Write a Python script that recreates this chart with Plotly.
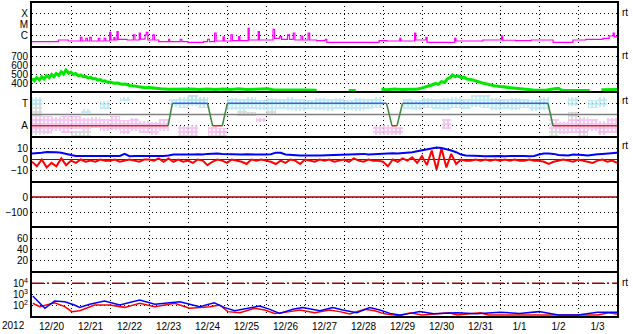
import numpy as np
import pandas as pd
import plotly.graph_objects as go
from plotly.subplots import make_subplots

START = pd.Timestamp("2012-12-20")
END = pd.Timestamp("2013-01-04")

def to_time(days):
    return [START + pd.Timedelta(days=float(d)) for d in days]

# ---------------- data ----------------
# GOES X-ray flux (W/m^2)
xray_days = [0.00, 0.68, 0.93, 1.24, 1.28, 1.38, 1.42, 1.48, 1.52, 1.70, 1.74, 1.85, 1.89, 1.99, 2.02,
             2.10, 2.13, 2.18, 2.21, 2.40, 2.44, 2.60, 2.64, 2.75, 2.78, 2.90, 2.93, 2.97, 3.10, 3.14,
             3.25, 3.50, 3.53, 3.80, 3.84, 4.00, 4.40, 4.50, 4.55, 4.68, 4.72, 4.90, 4.93, 5.10, 5.14,
             5.30, 5.33, 5.54, 5.57, 5.80, 5.83, 6.00, 6.18, 6.22, 6.35, 6.40, 6.55, 6.60, 6.70, 6.74,
             6.90, 6.94, 7.08, 7.12, 7.30, 7.52, 7.56, 7.63, 8.90, 9.10, 9.43, 9.46, 9.60, 9.81, 9.84,
             9.94, 10.10, 10.13, 10.20, 10.84, 10.87, 11.00, 11.56, 11.65, 12.04, 12.07, 12.40, 12.80,
             13.36, 13.87, 14.20, 14.50, 14.64, 14.80, 14.90, 14.93, 15.00]
xray_flux = [3.0e-7, 4.2e-7, 3.4e-7, 7.2e-7, 3.4e-7, 6.0e-7, 3.4e-7, 7.2e-7, 3.4e-7, 5.9e-7, 3.4e-7,
             5.9e-7, 3.4e-7, 2.0e-6, 4.2e-7, 7.0e-7, 4.2e-7, 2.3e-6, 4.8e-7, 4.8e-7, 4.2e-7, 1.2e-6,
             4.2e-7, 1.7e-6, 5.0e-7, 1.2e-6, 2.0e-6, 4.2e-7, 1.2e-6, 4.2e-7, 3.0e-7, 4.8e-7, 3.0e-7,
             4.8e-7, 3.0e-7, 2.6e-7, 3.0e-7, 4.8e-7, 3.0e-7, 1.7e-6, 3.4e-7, 8.0e-7, 3.4e-7, 1.2e-6,
             3.7e-7, 8.3e-7, 3.7e-7, 4.6e-6, 4.2e-7, 2.3e-6, 4.2e-7, 4.2e-7, 3.7e-6, 5.9e-7, 8.3e-7,
             4.8e-7, 1.2e-6, 4.8e-7, 1.7e-6, 4.2e-7, 9.5e-7, 4.2e-7, 1.7e-6, 4.2e-7, 3.7e-7, 4.8e-7,
             2.6e-7, 2.6e-7, 3.7e-7, 3.4e-7, 5.9e-7, 3.4e-7, 3.4e-7, 1.7e-6, 4.2e-7, 4.2e-7, 7.2e-7,
             2.6e-7, 2.6e-7, 5.9e-7, 3.4e-7, 3.4e-7, 4.2e-7, 4.2e-7, 1.0e-6, 4.0e-7, 3.7e-7, 4.2e-7,
             2.6e-7, 4.2e-7, 4.8e-7, 4.8e-7, 5.9e-7, 9.5e-7, 1.7e-6, 8.0e-7, 1.0e-6]

# Solar wind speed (km/s), None = data gap
speed_days = [0.00, 0.06, 0.12, 0.19, 0.25, 0.31, 0.37, 0.44, 0.50, 0.56, 0.62, 0.69, 0.75, 0.81, 0.87,
              0.94, 1.00, 1.06, 1.12, 1.19, 1.25, 1.31, 1.37, 1.44, 1.50, 1.56, 1.62, 1.69, 1.75, 1.81,
              1.87, 1.94, 2.00, 2.10, 2.20, 2.30, 2.40, 2.50, 2.60, 2.70, 2.80, 2.90, 3.00, 3.15, 3.30,
              3.50, 3.70, 3.90, 4.10, 4.30, 4.50, 4.70, 4.90, 5.10, 5.30, 5.50, 5.70, 5.90, 6.05, 6.20,
              6.50, 6.80, 7.00, 7.30, 7.32, 8.12, 8.30, 8.32, 8.96, 9.10, 9.30, 9.50, 9.70, 9.85, 9.95,
              10.05, 10.15, 10.25, 10.35, 10.42, 10.50, 10.58, 10.65, 10.72, 10.78, 10.85, 10.92, 11.00,
              11.08, 11.15, 11.25, 11.35, 11.45, 11.55, 11.65, 11.75, 11.85, 12.00, 12.15, 12.30, 12.50,
              12.70, 12.85, 13.00, 13.20, 13.40, 13.50, 13.60, 14.30, 14.50, 14.60, 14.80, 15.00]
speed_vals = [450, 425, 460, 435, 470, 445, 480, 460, 495, 470, 505, 485, 525, 500, 545,
              510, 520, 495, 505, 480, 490, 470, 475, 455, 465, 445, 450, 432, 438, 420,
              425, 408, 412, 398, 400, 385, 388, 372, 368, 360, 355, 348, 350, 340, 335,
              330, 332, 328, 333, 328, 332, 327, 333, 328, 335, 328, 333, 330, 336, 322,
              324, 320, 323, 320, None, 316, 318, None, 330, 326, 332, 327, 331, 330, 338,
              350, 365, 378, 395, 385, 415, 405, 445, 460, 490, 470, 480, 462,
              465, 445, 440, 425, 410, 400, 390, 378, 370, 360, 352, 345, 337,
              328, 322, 320, 322, 335, 340, 316, 316, None, 325, 330, 328]

# IMF sector polarity (1 = Away, 3 = Toward)
pol_days = [0.00, 3.49, 3.60, 4.50, 4.63, 4.88, 5.01, 9.09, 9.23, 9.36, 9.50, 13.23, 13.36, 15.00]
pol_vals = [1, 1, 3, 3, 1, 1, 3, 3, 1, 1, 3, 3, 1, 1]
SECTOR_MID = 2

# Phi-angle scatter clouds, 6-hour bins (low/high on the 0-4 panel scale)
cyan_lo = [2.8, None, None, None, None, 2.1, None, 2.5, None, 3.2, None, None, None, None, 2.7,
           2.6, 2.8, 2.6, None, None, 2.4, 2.3, 2.5, 2.4, 2.3, 2.5, 2.4, 2.3, 2.5, 2.4,
           2.3, 2.5, 2.4, 2.3, 2.5, 2.6, None, None, 2.5, 2.4, 2.6, 2.5, 2.4, 2.6, 2.5,
           2.7, 2.6, 2.4, 2.5, 2.4, 2.6, 2.3, 2.4, None, None, 2.8, None, 2.6, 2.7, None]
cyan_hi = [3.6, None, None, None, None, 2.5, None, 3.2, None, 3.6, None, None, None, None, 3.4,
           3.6, 3.7, 3.5, None, None, 3.5, 3.4, 3.6, 3.3, 3.5, 3.4, 3.6, 3.4, 3.3, 3.5,
           3.4, 3.5, 3.3, 3.5, 3.4, 3.6, None, None, 3.4, 3.3, 3.5, 3.4, 3.5, 3.6, 3.4,
           3.7, 3.7, 3.5, 3.4, 3.5, 3.4, 3.3, 3.6, None, None, 3.6, None, 3.3, 3.6, None]
pink_lo = [0.5, 0.3, 0.5, 0.4, 0.7, 0.6, 0.8, 0.5, 0.6, 0.3, 0.5, 0.4, 0.2, 0.5, None,
           0.1, 0.0, None, 0.0, 0.1, None, None, None, 1.3, None, None, None, None, None, None,
           None, None, None, None, None, 0.2, 0.2, 0.3, None, None, None, None, 0.7, None, None,
           None, None, None, None, None, None, None, None, 0.6, 0.3, 0.4, 0.3, 0.5, 0.2, 0.4]
pink_hi = [1.7, 1.9, 1.8, 1.9, 1.9, 1.7, 1.8, 1.6, 1.9, 1.5, 1.7, 1.4, 1.3, 1.6, None,
           1.0, 1.1, None, 0.9, 0.8, None, None, None, 1.7, None, None, None, None, None, None,
           None, None, None, None, None, 1.0, 1.1, 0.9, None, None, None, None, 1.6, None, None,
           None, None, None, None, None, None, None, None, 1.6, 1.3, 1.5, 1.8, 1.6, 1.4, 1.7]
gray_lo = [0.2, None, None, None, 0.0, 0.1, None, None, None, None, None, None, None, None, None,
           None, 2.9, 2.8, None, 0.1, None, 1.9, 1.9, None, 2.0, None, None, None, None, None,
           None, None, None, None, None, None, None, 0.2, None, None, None, None, None, None, None,
           None, None, None, None, None, None, None, None, 0.1, None, 1.4, 0.0, None, 0.2, None]
gray_hi = [3.3, None, None, None, 0.5, 0.6, None, None, None, None, None, None, None, None, None,
           None, 3.7, 3.6, None, 0.6, None, 2.3, 2.2, None, 2.3, None, None, None, None, None,
           None, None, None, None, None, None, None, 0.8, None, None, None, None, None, None, None,
           None, None, None, None, None, None, None, None, 0.6, None, 2.2, 0.6, None, 1.0, None]

# IMF Bt and Bz (nT), 3-hourly
bt_vals = [5.3, 5.5, 6.0, 6.7, 6.7, 6.5, 6.0, 5.3,
           4.0, 3.2, 3.2, 3.0, 3.2, 3.0, 3.0, 3.2,
           3.0, 3.0, 3.2, 5.0, 3.0, 3.2, 3.0, 3.0,
           3.2, 3.2, 3.0, 3.2, 3.5, 4.4, 4.4, 4.2,
           4.4, 4.4, 4.6, 4.4, 5.0, 5.3, 5.3, 5.0,
           4.7, 4.4, 4.2, 4.4, 4.7, 4.4, 4.2, 4.4,
           4.4, 4.7, 6.1, 6.0, 4.4, 4.0, 3.8, 3.6,
           3.6, 3.8, 3.6, 3.5, 3.6, 3.8, 4.0, 4.4,
           4.4, 4.7, 4.4, 4.7, 5.0, 4.4, 4.7, 5.0,
           5.5, 5.8, 5.5, 5.3, 5.5, 5.8, 6.5, 7.3,
           8.0, 8.8, 10.0, 10.6, 10.2, 9.4, 8.0, 6.5,
           4.4, 3.5, 3.2, 3.2, 3.2, 3.0, 3.2, 3.0,
           3.2, 3.0, 3.2, 3.0, 3.2, 3.2, 3.0, 3.2,
           4.5, 5.3, 5.3, 5.0, 4.0, 3.8, 3.5, 4.4,
           4.4, 4.0, 3.6, 4.4, 4.7, 5.0, 5.5, 6.1,
           6.1]
bz_vals = [-2, -6, 0, -7, -3, -6, 1, -5,
           -1, -3, 0, -2, -1, -2, 0, -1,
           -1, 0, -2, -1, 0, -1, -2, 0,
           0, -1, 1, -2, 1, -2, 0, -2,
           -1, -3, 0, -1, -5, -2, 0, -1,
           -3, 0, -1, -2, -4, 0, -1, 0,
           -1, -2, -4, -1, -3, 0, -1, -4,
           0, -1, -2, 0, -1, 0, -2, -1,
           0, -2, 1, -1, -2, 0, -1, -1,
           -2, -6, 0, -2, 1, -1, 2, -3,
           3, -5, 8, -9, 10, -7, 5, -4,
           0, -1, -1, 0, -1, 0, -1, 0,
           -1, 0, -1, 0, -1, -1, 0, -1,
           -1, -2, -4, -2, -1, 0, -1, -2,
           0, -1, -2, -3, -1, 0, -2, -1,
           -3]
BZ_REF = 0

# Dst (no data in this interval) and its reference level; Kp (no data)
DST_REF = 0

# Particle fluxes
flux_blue_days = [0.02, 0.20, 0.33, 0.58, 0.84, 1.09, 1.22, 1.48, 1.86, 2.25, 2.76, 3.15, 3.53, 3.79,
                  4.12, 4.30, 4.67, 4.94, 5.20, 5.58, 5.84, 6.10, 6.35, 6.69, 6.94, 7.38, 7.71, 7.97,
                  8.33, 8.66, 8.92, 9.18, 9.43, 9.70, 9.94, 10.3, 10.9, 11.4, 11.9, 12.0, 12.5, 13.0,
                  13.5, 14.0, 14.5, 15.0]
flux_blue_vals = [741, 158, 60, 263, 229, 117, 72, 135, 263, 117, 324, 135, 186, 229,
                  117, 83, 186, 68, 36, 59, 95, 48, 21, 48, 68, 36, 68, 42,
                  24, 68, 42, 21, 15, 21, 30, 19, 24, 19, 26, 26, 21, 30,
                  15, 15, 26, 26]
flux_red_days = [0.02, 0.20, 0.58, 0.84, 1.02, 1.22, 1.61, 1.99, 2.38, 2.76, 3.15, 3.66, 4.04, 4.56,
                 4.81, 5.02, 5.33, 5.71, 5.97, 6.22, 6.61, 6.87, 7.25, 7.63, 7.89, 8.15, 8.53, 8.79,
                 9.04, 9.43, 9.70, 10.0, 10.7, 10.9, 11.5, 11.7, 12.5, 13.5, 14.5, 14.8, 15.0]
flux_red_vals = [166, 83, 186, 83, 30, 36, 117, 117, 72, 166, 83, 166, 59, 83,
                 117, 30, 24, 59, 42, 21, 30, 42, 24, 42, 30, 19, 48, 36,
                 19, 13, 24, 15, 24, 15, 24, 15, 15, 15, 15, 24, 18]

PROTON_THRESHOLD = 1e4

day_labels = ["12/20", "12/21", "12/22", "12/23", "12/24", "12/25", "12/26", "12/27",
              "12/28", "12/29", "12/30", "12/31", "1/1", "1/2", "1/3"]

# ---------------- figure ----------------
FONT = "Liberation Sans, Arial, sans-serif"
fig = make_subplots(rows=7, cols=1, shared_xaxes=True, vertical_spacing=0)

def hline_trace(level, row, color, width, dash="solid"):
    fig.add_trace(go.Scatter(x=[START, END], y=[level, level], mode="lines", hoverinfo="skip",
                             line=dict(color=color, width=width, dash=dash)), row=row, col=1)

# panel 1: X-ray
fig.add_trace(go.Scatter(x=to_time(xray_days), y=xray_flux, mode="lines", line_shape="hv",
                         line=dict(color="#ff00ff", width=1.2)), row=1, col=1)
# panel 2: speed
fig.add_trace(go.Scatter(x=to_time(speed_days), y=speed_vals, mode="lines", connectgaps=False,
                         line=dict(color="#00e800", width=3)), row=2, col=1)

# panel 3: phi clouds as binned ranges
bin_starts = pd.date_range(START, periods=len(cyan_lo), freq="6h")
bin_width_ms = 6 * 3600 * 1000

def add_cloud(lo, hi, color):
    xs, base, h = [], [], []
    for t0, a, b in zip(bin_starts, lo, hi):
        if a is None:
            continue
        xs.append(t0 + pd.Timedelta(hours=3))
        base.append(a)
        h.append(b - a)
    fig.add_trace(go.Bar(x=xs, y=h, base=base, width=bin_width_ms, opacity=0.8,
                         marker=dict(color=color, line_width=0,
                                     pattern=dict(shape=".", fgcolor="white", bgcolor=color,
                                                  size=4, solidity=0.3, fillmode="replace")),
                         hoverinfo="skip"),
                  row=3, col=1)

add_cloud(gray_lo, gray_hi, "#d0d0d0")
add_cloud(cyan_lo, cyan_hi, "#ade6fa")
add_cloud(pink_lo, pink_hi, "#f7b4f2")

hline_trace(SECTOR_MID, 3, "#808080", 1.5)

pol_t = to_time(pol_days)
for i in range(len(pol_days) - 1):
    a, b = pol_vals[i], pol_vals[i + 1]
    if a == b:
        col = "#d02828" if a == 1 else "#3c5ee0"
    else:
        col = "#3f8a3f"
    fig.add_trace(go.Scatter(x=[pol_t[i], pol_t[i + 1]], y=[a, b], mode="lines",
                             line=dict(color=col, width=1.5)), row=3, col=1)

# panel 4: Bt / Bz
mag_t = pd.date_range(START, periods=len(bt_vals), freq="3h")
hline_trace(BZ_REF, 4, "#a00000", 1)
fig.add_trace(go.Scatter(x=mag_t, y=bz_vals, mode="lines", line=dict(color="#ff0000", width=2)),
              row=4, col=1)
fig.add_trace(go.Scatter(x=mag_t, y=bt_vals, mode="lines", line=dict(color="#0000ff", width=2)),
              row=4, col=1)

# panel 5: Dst reference level
hline_trace(DST_REF, 5, "#a00000", 1.5)
# panel 6: Kp (empty)
fig.add_trace(go.Scatter(x=[START, END], y=[None, None], mode="lines"), row=6, col=1)

# panel 7: particle fluxes
hline_trace(PROTON_THRESHOLD, 7, "#a00000", 1.5, "12px,3px,2px,3px")
fig.add_trace(go.Scatter(x=to_time(flux_red_days), y=flux_red_vals, mode="lines",
                         line=dict(color="#ff0000", width=1.5)), row=7, col=1)
fig.add_trace(go.Scatter(x=to_time(flux_blue_days), y=flux_blue_vals, mode="lines",
                         line=dict(color="#0000ff", width=1.5)), row=7, col=1)

# ---------------- axes ----------------
midnights = list(pd.date_range(START + pd.Timedelta(days=1), periods=14, freq="D"))
noons = list(pd.date_range(START + pd.Timedelta(hours=12), periods=15, freq="D"))
DOT = "1px,3px"

for r in range(1, 8):
    fig.update_xaxes(row=r, col=1, range=[START, END], showline=True, mirror=True, linewidth=1,
                     linecolor="black", showgrid=False, zeroline=False, ticks="",
                     tickmode="array", tickvals=noons, ticktext=day_labels,
                     showticklabels=(r == 7), tickfont=dict(family=FONT, size=10, color="black"),
                     minor=dict(tickmode="array", tickvals=midnights, showgrid=True,
                                gridcolor="black", griddash=DOT, gridwidth=1, ticks=""))

yax_common = dict(showline=True, mirror=True, linewidth=2, linecolor="black", showgrid=True,
                  gridcolor="black", griddash=DOT, gridwidth=1, zeroline=False, ticks="",
                  tickfont=dict(family=FONT, size=10, color="black"), fixedrange=True)

fig.update_yaxes(row=1, col=1, type="log", range=[-7, -3], tickmode="array",
                 tickvals=[1e-4, 1e-5, 1e-6], ticktext=["X", "M", "C"], **yax_common)
fig.update_yaxes(row=2, col=1, range=[300, 800], tickmode="array",
                 tickvals=[400, 500, 600, 700], **yax_common)
fig.update_yaxes(row=3, col=1, range=[0, 4], tickmode="array",
                 tickvals=[1, 3], ticktext=["A", "T"], **yax_common)
fig.update_yaxes(row=4, col=1, range=[-20, 20], tickmode="array",
                 tickvals=[-10, 0, 10], **yax_common)
fig.update_yaxes(row=5, col=1, range=[-200, 100], tickmode="array",
                 tickvals=[-100, 0], **yax_common)
fig.update_yaxes(row=6, col=1, range=[0, 80], tickmode="array",
                 tickvals=[20, 40, 60], **yax_common)
fig.update_yaxes(row=7, col=1, type="log", range=[1, 5], tickmode="array",
                 tickvals=[1e2, 1e3, 1e4], ticktext=["10<sup>2</sup>", "10<sup>3</sup>", "10<sup>4</sup>"],
                 **yax_common)

# outer top / bottom frame edges
for yp in (0, 1):
    fig.add_shape(type="line", xref="paper", yref="paper", x0=0, x1=1, y0=yp, y1=yp,
                  line=dict(color="black", width=2))

# ---------------- annotations ----------------
PLOT_H = 315.0
def py(pix):
    return (317.0 - pix) / PLOT_H

for ypix in [12, 56, 100, 145, 282]:
    fig.add_annotation(text="rt", xref="paper", yref="paper", x=1.0, y=py(ypix), xanchor="left",
                       yanchor="middle", xshift=3, showarrow=False,
                       font=dict(family=FONT, size=10, color="black"))
fig.add_annotation(text="2012", xref="paper", yref="paper", x=0, y=py(325), xanchor="right",
                   yanchor="middle", xshift=-5, showarrow=False,
                   font=dict(family=FONT, size=10, color="black"))

fig.update_layout(width=633, height=334, margin=dict(l=32, r=16, t=2, b=17),
                  paper_bgcolor="white", plot_bgcolor="white", showlegend=False,
                  barmode="overlay", bargap=0, font=dict(family=FONT, size=10, color="black"))

fig.write_html("out.html")
